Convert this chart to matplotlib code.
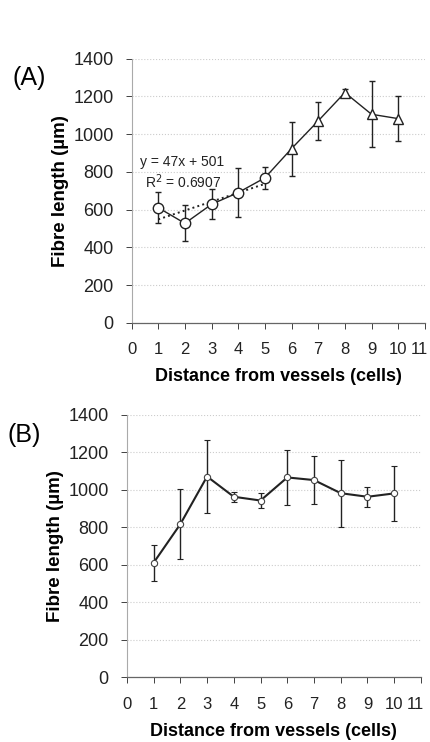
import matplotlib
matplotlib.use("Agg")
import matplotlib.pyplot as plt
import matplotlib.transforms as mtransforms
import numpy as np

plt.rcParams['font.family'] = ['Liberation Sans', 'DejaVu Sans']

distance = [1, 2, 3, 4, 5, 6, 7, 8, 9, 10]
a_values = [610, 527, 628, 690, 768, 923, 1070, 1220, 1105, 1082]
a_errors = [82, 95, 80, 130, 60, 143, 102, 20, 175, 120]
b_values = [611, 817, 1071, 963, 943, 1066, 1052, 982, 963, 981]
b_errors = [95, 185, 192, 28, 38, 145, 128, 178, 53, 145]
fit_slope = 47
fit_intercept = 501
fit_label = "y = 47x + 501"
r2_label = "R$^2$ = 0.6907"
y_ticks = [0, 200, 400, 600, 800, 1000, 1200, 1400]
x_ticks = list(range(0, 12))

fig = plt.figure(figsize=(4.30, 7.42), dpi=100)
axA = fig.add_axes([0.306, 0.565, 0.682, 0.356])
axB = fig.add_axes([0.295, 0.087, 0.684, 0.354])

def style(ax):
    ax.set_xlim(0, 11)
    ax.set_ylim(0, 1400)
    ax.set_xticks(x_ticks)
    ax.set_yticks(y_ticks)
    ax.tick_params(axis='both', colors='#222222', width=0.6)
    ax.tick_params(axis='x', length=4, pad=10, labelsize=12)
    ax.tick_params(axis='y', length=4, pad=9, labelsize=13)
    for s in ['top', 'right']:
        ax.spines[s].set_visible(False)
    ax.spines['left'].set_color('#aaaaaa')
    ax.spines['left'].set_linewidth(0.8)
    ax.spines['bottom'].set_color('#666666')
    ax.spines['bottom'].set_linewidth(0.9)
    ax.grid(axis='y', color='#cccccc', linestyle=':', linewidth=0.8)
    ax.set_axisbelow(True)
    ax.set_ylabel('Fibre length (µm)', fontsize=13.5, fontweight='bold', labelpad=3)
    ax.set_xlabel('Distance from vessels (cells)', fontsize=13, fontweight='bold', labelpad=8)
    # last x tick label sits slightly left so it stays inside the figure
    last = ax.get_xticklabels()[-1]
    off = mtransforms.ScaledTranslation(-4 / 72, 0, fig.dpi_scale_trans)
    last.set_transform(last.get_transform() + off)

# Panel A
style(axA)
axA.errorbar(distance, a_values, yerr=a_errors, color='#222222', linewidth=1.0,
             elinewidth=1.0, capsize=2.5, capthick=1.0, zorder=2, marker='none')
axA.plot(distance[:5], a_values[:5], linestyle='none', marker='o', markersize=7.5,
         markerfacecolor='white', markeredgecolor='#222222', markeredgewidth=1.0, zorder=3)
axA.plot(distance[5:], a_values[5:], linestyle='none', marker='^', markersize=7.5,
         markerfacecolor='white', markeredgecolor='#222222', markeredgewidth=1.0, zorder=3)
fx = np.array(distance[:5])
axA.plot(fx, fit_slope * fx + fit_intercept, linestyle=':', color='#222222', linewidth=1.4, zorder=2)
axA.text(1.88, 851, fit_label, fontsize=10, ha='center', va='center', color='#222222')
axA.text(1.94, 746, r2_label, fontsize=10, ha='center', va='center', color='#222222')
fig.text(0.030, 0.895, '(A)', fontsize=18, ha='left', va='center')

# Panel B
style(axB)
axB.errorbar(distance, b_values, yerr=b_errors, color='#222222', linewidth=1.5,
             elinewidth=1.0, capsize=2.5, capthick=1.0, zorder=2, marker='o', markersize=4.5,
             markerfacecolor='white', markeredgecolor='#444444', markeredgewidth=0.8)
fig.text(0.018, 0.414, '(B)', fontsize=18, ha='left', va='center')

fig.savefig('out.png', dpi=100)
